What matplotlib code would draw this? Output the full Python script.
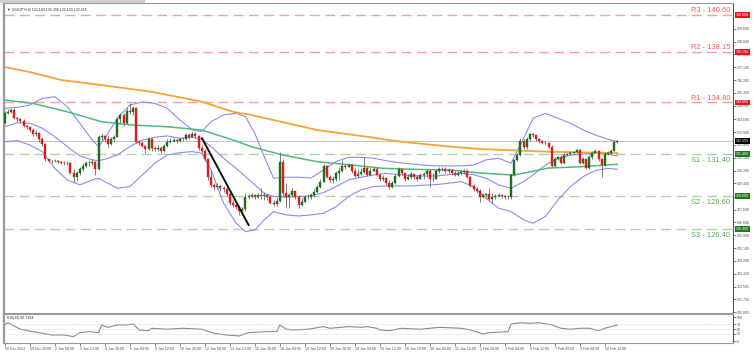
import matplotlib
matplotlib.use("Agg")
import matplotlib.pyplot as plt
import matplotlib.transforms as mtransforms
from matplotlib.patches import Rectangle
import numpy as np

# USDJPY H4 candles, bar 0 = 28 Dec 2022.
# Each bar opens at the previous close.
first_open = 133.46
closes = [
    134.12, 134.19, 134.30, 133.79, 133.68, 133.59, 133.24, 133.15, 132.98, 132.69,
    132.80, 132.36, 132.05, 131.03, 130.94, 130.90, 130.92, 130.85, 130.81, 130.77,
    130.81, 130.15, 129.84, 130.10, 130.37, 130.59, 130.77, 130.81, 130.88, 130.37,
    132.49, 132.58, 132.36, 132.05, 132.36, 132.53, 133.68, 133.97, 133.42, 134.26,
    134.19, 134.41, 132.20, 132.14, 131.91, 131.69, 132.36, 131.76, 131.72, 131.80,
    131.58, 131.91, 132.20, 132.27, 132.31, 132.27, 132.36, 132.40, 132.62, 132.53,
    132.71, 132.58, 131.76, 131.60, 131.03, 129.84, 129.33, 129.17, 129.26, 129.11,
    129.04, 128.73, 128.11, 128.00, 127.89, 127.63, 127.72, 128.51, 128.60, 128.64,
    128.56, 128.69, 128.60, 128.64, 128.51, 128.16, 128.07, 128.29, 130.88, 128.78,
    128.51, 128.67, 128.95, 128.51, 128.00, 128.22, 128.51, 128.56, 128.67, 128.89,
    129.22, 129.55, 130.59, 129.88, 129.66, 129.70, 130.15, 130.28, 130.59, 130.50,
    130.63, 130.23, 129.92, 130.06, 130.19, 130.46, 130.01, 130.28, 130.41, 130.01,
    129.70, 129.79, 129.48, 129.17, 129.48, 129.92, 130.37, 130.10, 129.70, 129.84,
    130.06, 129.88, 129.75, 129.97, 130.06, 130.28, 129.70, 129.75, 130.23, 130.41,
    130.37, 130.28, 130.32, 130.10, 130.01, 130.10, 130.19, 130.28, 129.88, 129.26,
    129.04, 128.91, 128.56, 128.64, 128.73, 128.38, 128.51, 128.60, 128.64, 128.60,
    128.56, 128.51, 129.99, 130.99, 131.32, 132.27, 131.83, 132.36, 132.71, 132.62,
    132.36, 132.22, 132.14, 132.09, 131.87, 130.59, 131.07, 131.16, 130.81, 131.32,
    131.38, 131.43, 131.52, 131.65, 130.81, 131.03, 130.46, 131.16, 131.47, 131.56,
    131.03, 130.68, 131.38, 131.47, 131.60, 132.18, 132.255,
]
highs = [
    134.26, 134.35, 134.41, 134.46, 133.86, 133.75, 133.68, 133.31, 133.20, 133.09,
    132.98, 132.86, 132.49, 132.09, 131.07, 131.01, 131.03, 130.99, 130.94, 130.90,
    130.92, 130.88, 130.37, 130.28, 130.50, 130.77, 130.94, 130.99, 131.03, 130.94,
    132.64, 132.75, 132.64, 132.58, 132.49, 132.64, 133.81, 134.12, 134.08, 134.41,
    134.74, 134.57, 134.48, 132.31, 132.22, 131.98, 132.49, 132.44, 131.91, 131.96,
    131.91, 132.05, 132.36, 132.42, 132.42, 132.40, 132.49, 132.53, 132.75, 132.80,
    132.86, 132.84, 132.64, 131.98, 131.69, 131.07, 130.32, 129.48, 129.44, 129.33,
    129.26, 129.22, 128.82, 128.33, 128.11, 128.02, 127.85, 128.78, 128.73, 128.78,
    128.73, 128.82, 129.11, 128.86, 128.73, 128.67, 128.33, 128.44, 131.54, 131.03,
    129.48, 128.82, 129.11, 128.95, 128.67, 128.44, 128.67, 128.73, 128.82, 129.04,
    129.33, 129.70, 130.72, 130.65, 129.99, 129.92, 130.28, 130.50, 130.99, 130.72,
    130.77, 130.72, 130.43, 130.37, 130.43, 131.21, 130.50, 130.45, 130.54, 130.54,
    130.10, 130.01, 129.88, 129.66, 129.62, 130.06, 130.54, 130.37, 130.15, 130.06,
    130.19, 130.06, 130.01, 130.10, 130.19, 130.41, 130.37, 130.15, 130.37, 130.50,
    130.54, 130.50, 130.45, 130.41, 130.28, 130.23, 130.32, 130.41, 130.37, 129.92,
    129.39, 129.22, 129.04, 128.82, 128.82, 129.11, 128.78, 128.73, 128.78, 128.73,
    128.69, 128.69, 130.06, 131.07, 131.43, 132.42, 132.36, 132.49, 132.80, 132.75,
    132.67, 132.42, 132.31, 132.22, 132.18, 131.96, 131.21, 131.25, 131.30, 131.43,
    131.47, 131.56, 131.60, 131.74, 131.69, 131.21, 131.07, 131.30, 131.60, 131.69,
    131.65, 131.12, 131.52, 131.60, 131.74, 132.27, 132.31,
]
lows = [
    133.37, 134.04, 134.12, 133.68, 133.53, 133.46, 133.15, 133.02, 132.86, 132.58,
    132.58, 132.20, 131.94, 130.94, 130.85, 130.81, 130.83, 130.77, 130.72, 130.65,
    130.68, 130.06, 129.55, 129.62, 129.99, 130.28, 130.50, 130.59, 130.65, 129.99,
    130.32, 132.31, 132.20, 131.87, 131.98, 132.20, 132.49, 133.46, 133.24, 133.37,
    134.04, 133.97, 132.14, 131.98, 131.83, 131.43, 131.65, 131.60, 131.60, 131.60,
    131.47, 131.54, 131.87, 132.09, 132.18, 132.14, 132.20, 132.22, 132.31, 132.40,
    132.49, 132.42, 131.65, 131.47, 130.94, 129.66, 129.17, 129.00, 129.04, 128.95,
    128.86, 128.60, 127.98, 127.85, 127.72, 127.34, 127.54, 127.63, 128.42, 128.45,
    128.42, 128.47, 128.38, 128.33, 128.33, 128.07, 127.94, 127.94, 128.22, 128.60,
    127.78, 127.78, 128.51, 128.38, 127.78, 127.94, 128.22, 128.38, 128.42, 128.56,
    128.78, 129.11, 129.55, 129.77, 129.55, 129.48, 129.62, 129.66, 130.21, 130.37,
    130.50, 130.15, 129.84, 129.88, 129.99, 130.15, 129.92, 129.97, 130.23, 129.92,
    129.57, 129.62, 129.35, 129.04, 129.11, 129.39, 129.84, 129.97, 129.62, 129.66,
    129.75, 129.75, 129.62, 129.70, 129.75, 129.88, 129.22, 129.62, 129.70, 130.15,
    130.28, 130.15, 130.15, 130.01, 129.92, 129.92, 129.97, 130.06, 129.79, 129.17,
    128.91, 128.78, 128.22, 128.47, 128.56, 128.29, 128.11, 128.38, 128.51, 128.47,
    128.42, 128.42, 128.42, 129.92, 130.94, 131.25, 131.74, 131.74, 132.27, 132.49,
    132.27, 132.14, 132.05, 132.00, 131.78, 130.50, 130.50, 130.99, 130.72, 130.72,
    131.25, 131.30, 131.38, 131.43, 130.72, 130.72, 130.37, 130.41, 131.07, 131.43,
    130.94, 129.88, 130.59, 131.29, 131.34, 131.56, 132.10,
]

# Bollinger bands (20, 2) sampled at these bars
bb_bars = [0, 4, 8, 12, 16, 20, 24, 28, 30, 32, 36, 40, 44, 48, 52, 56, 60, 63, 66, 70,
           74, 77, 80, 83, 86, 90, 94, 98, 102, 106, 110, 114, 118, 122, 126, 130, 134,
           138, 142, 146, 150, 154, 158, 162, 166, 169, 173, 177, 181, 185, 189, 193, 196]
bb_upper = [134.41, 134.48, 134.63, 135.07, 135.18, 134.52, 133.42, 132.31, 131.87, 132.42,
            133.75, 134.63, 134.83, 134.74, 134.41, 133.64, 132.98, 132.87, 133.53, 133.97,
            134.08, 133.86, 132.75, 131.21, 129.77, 129.84, 129.84, 129.79, 130.32, 130.88,
            131.16, 131.16, 131.10, 130.94, 130.81, 130.72, 130.65, 130.59, 130.59, 130.59,
            130.65, 130.99, 131.10, 130.77, 132.42, 133.75, 134.08, 133.75, 133.42, 132.98,
            132.64, 132.36, 132.20]
bb_mid = [133.20, 133.46, 133.42, 133.09, 132.53, 131.87, 131.25, 130.99, 130.94, 131.03,
          131.32, 131.87, 132.31, 132.49, 132.58, 132.42, 132.49, 132.36, 131.87, 131.10,
          130.43, 129.88, 129.33, 128.78, 128.56, 128.51, 128.56, 128.60, 128.82, 129.22,
          129.66, 129.84, 129.99, 130.10, 130.01, 129.95, 129.92, 129.92, 130.01, 130.10,
          130.01, 129.77, 129.33, 129.11, 129.55, 129.99, 130.65, 131.10, 131.30, 131.38,
          131.47, 131.38, 131.25]
bb_lower = [132.20, 132.27, 131.98, 131.54, 130.43, 129.66, 129.33, 129.66, 129.77, 129.55,
            129.11, 129.22, 129.99, 130.77, 131.32, 131.47, 131.54, 131.43, 130.32, 128.12,
            126.79, 126.23, 126.34, 127.01, 127.56, 127.34, 127.27, 127.34, 127.45, 127.89,
            128.56, 129.00, 129.22, 129.26, 129.26, 129.26, 129.31, 129.35, 129.44, 129.55,
            129.22, 128.45, 127.78, 127.56, 127.01, 126.79, 127.23, 128.34, 129.22, 129.88,
            130.28, 130.43, 130.37]

# slow (orange) and fast (green) moving averages
ma_slow_bars = [0, 8, 18, 31, 47, 63, 73, 79, 100, 116, 127, 143, 152, 174, 196]
ma_slow = [137.15, 136.82, 136.29, 135.95, 135.51, 134.85, 134.18, 133.96, 132.97, 132.52,
           132.19, 131.86, 131.71, 131.53, 131.44]
ma_fast_bars = [0, 9, 20, 31, 41, 52, 63, 73, 79, 89, 100, 111, 121, 132, 143, 152, 163,
                174, 184, 196]
ma_fast = [134.96, 134.74, 134.18, 133.52, 133.30, 133.19, 132.97, 132.31, 131.86, 131.31,
           130.87, 130.65, 130.43, 130.36, 130.31, 130.12, 129.98, 130.45, 130.53, 130.70]

# hand-drawn trend line
trend_bars = [63.1, 78.0]
trend_prices = [132.42, 126.67]

# support / resistance
level_names = ["R3", "R2", "R1", "S1", "S2", "S3"]
level_values = [140.60, 138.15, 134.80, 131.40, 128.60, 126.40]
last_price = 132.255

price_ticks = ["120.885", "121.730", "122.585", "123.435", "124.290", "125.140", "125.990",
               "126.840", "127.690", "128.540", "129.435", "130.285", "131.140", "131.990",
               "132.840", "133.690", "134.580", "135.430", "136.285", "137.135", "137.990",
               "138.840", "139.695"]

# RSI(14)
rsi_bars = [0, 1, 5, 9, 12, 15, 19, 22, 24, 27, 30, 31, 33, 36, 39, 41, 43, 46, 47, 52,
            57, 63, 67, 71, 75, 78, 84, 87, 88, 90, 92, 97, 102, 104, 110, 114, 116, 119,
            120, 123, 127, 133, 136, 139, 146, 149, 153, 155, 161, 162, 165, 168, 171, 175,
            178, 181, 184, 187, 190, 192, 194, 196]
rsi_values = [67, 76, 49, 39, 32, 25, 25, 18, 35, 39, 35, 67, 57, 67, 67, 71, 46, 43, 53, 49,
              53, 49, 32, 25, 21, 35, 39, 39, 67, 50, 46, 49, 60, 53, 60, 57, 60, 53,
              46, 43, 53, 49, 53, 57, 53, 46, 29, 35, 39, 71, 76, 74, 76, 67,
              53, 49, 53, 53, 43, 53, 60, 66.7]

date_labels = ["28 Dec 2022", "29 Dec 20:00", "2 Jan 04:00", "3 Jan 12:00", "4 Jan 20:00",
               "6 Jan 04:00", "9 Jan 12:00", "10 Jan 20:00", "12 Jan 04:00", "13 Jan 12:00",
               "16 Jan 20:00", "18 Jan 04:00", "19 Jan 12:00", "20 Jan 20:00", "24 Jan 04:00",
               "25 Jan 12:00", "26 Jan 20:00", "30 Jan 04:00", "31 Jan 12:00", "1 Feb 20:00",
               "3 Feb 04:00", "6 Feb 12:00", "7 Feb 20:00", "9 Feb 04:00", "10 Feb 12:00"]

plt.rcParams['font.family'] = ['Liberation Sans', 'DejaVu Sans']

W, H = 754, 352
fig = plt.figure(figsize=(W / 100, H / 100), dpi=100)
fig.patch.set_facecolor('white')

def px_axes(x0, y0, x1, y1):
    return fig.add_axes([x0 / W, 1 - y1 / H, (x1 - x0) / W, (y1 - y0) / H])

ax = px_axes(4, 3, 733, 313)
ax_rsi = px_axes(4, 314, 733, 343)

n = len(closes)
x = np.arange(n)
c = np.array(closes)
o = np.concatenate([[first_open], c[:-1]])
hi = np.array(highs)
lo = np.array(lows)
up = c >= o
body_col = np.where(up, '#1e6e1e', '#e01b1b')

ax.vlines(x, lo, hi, color='#6a6a6a', linewidth=0.6, zorder=3)
ax.bar(x, np.abs(c - o), bottom=np.minimum(o, c), width=0.64, color=body_col,
       edgecolor=body_col, linewidth=0.3, zorder=4)

ax.plot(bb_bars, bb_upper, color='#8c8cf0', lw=0.8, zorder=2)
ax.plot(bb_bars, bb_mid, color='#8c8cf0', lw=0.8, zorder=2)
ax.plot(bb_bars, bb_lower, color='#8c8cf0', lw=0.8, zorder=2)
ax.plot(ma_slow_bars, ma_slow, color='#f7a43a', lw=1.3, zorder=2)
ax.plot(ma_fast_bars, ma_fast, color='#4dbb7c', lw=1.1, zorder=2)
ax.plot(trend_bars, trend_prices, color='#111111', lw=1.4, zorder=5)

ax.axhline(last_price, color='#c4c4c4', lw=0.8, zorder=1)

trans = mtransforms.blended_transform_factory(ax.transAxes, ax.transData)
for name, val in zip(level_names, level_values):
    res = name.startswith('R')
    lc = '#ff9c9c' if res else '#a9d3a9'
    tc = '#f25c5c' if res else '#5aa55a'
    ax.axhline(val, color=lc, lw=1.0, dashes=(7, 4), zorder=1)
    if res:
        ax.text(0.996, val + 0.17, f"{name} - {val:.2f}", transform=trans, ha='right',
                va='baseline', fontsize=5.4, color=tc)
    else:
        ax.text(0.996, val - 0.2, f"{name} - {val:.2f}", transform=trans, ha='right',
                va='top', fontsize=5.4, color=tc)
    ax.text(1.004, val, f"{val:.3f}", transform=trans, ha='left', va='center',
            fontsize=2.6, color='white', clip_on=False,
            bbox=dict(boxstyle='square,pad=0.25', fc='#e8141a' if res else '#1f7a1f', ec='none'))

ax.text(1.004, last_price, f"{last_price:.3f}", transform=trans, ha='left', va='center',
        fontsize=2.6, color='white', clip_on=False,
        bbox=dict(boxstyle='square,pad=0.25', fc='black', ec='none'))

ax.set_xlim(-0.26, 233.0)
ax.set_ylim(120.83, 141.40)
ax.yaxis.tick_right()
ax.set_yticks([float(t) for t in price_ticks])
ax.set_yticklabels(price_ticks)
ax.tick_params(axis='y', labelsize=2.6, length=2, width=0.5, pad=1, colors='#505050')
ax.set_xticks([])
for s in ax.spines.values():
    s.set_color('#9a9a9a')
    s.set_linewidth(0.8)
ax.spines['left'].set_linewidth(1.6)
ax.spines['right'].set_color('#555555')

ax.text(0.004, 0.985, "\u25bc USDJPY,H4 132.184 132.308 132.103 132.255", transform=ax.transAxes,
        ha='left', va='top', fontsize=2.6, color='#333333')

# RSI panel
ax_rsi.plot(rsi_bars, rsi_values, color='#8a8a8a', lw=0.8)
for lvl in (70, 50, 30):
    ax_rsi.axhline(lvl, color='#c8c8c8', lw=0.5, ls=(0, (1, 1.5)))
ax_rsi.set_xlim(-0.26, 233.0)
ax_rsi.set_ylim(-8.3, 112.5)
ax_rsi.yaxis.tick_right()
ax_rsi.set_yticks([100, 70, 50, 30, 0])
ax_rsi.set_yticklabels(["100", "70", "50", "30", "0"])
ax_rsi.tick_params(axis='y', labelsize=2.6, length=2, width=0.5, pad=1, colors='#505050')
ax_rsi.set_xticks(np.arange(len(date_labels)) * 8)
ax_rsi.set_xticklabels(date_labels, ha='left')
ax_rsi.tick_params(axis='x', labelsize=2.6, length=2, width=0.5, pad=1, colors='#505050')
for s in ax_rsi.spines.values():
    s.set_color('#9a9a9a')
    s.set_linewidth(0.8)
ax_rsi.spines['left'].set_linewidth(1.6)
ax_rsi.spines['right'].set_color('#555555')
ax_rsi.text(0.004, 0.93, "RSI(14) 66.7354", transform=ax_rsi.transAxes, ha='left', va='top',
            fontsize=2.6, color='#333333')

# grey strip along the top edge
fig.patches.append(Rectangle((0, 1 - 3 / H), 145 / W, 3 / H, transform=fig.transFigure,
                             facecolor='#cfcfcf', edgecolor='none'))

fig.savefig("out.png", dpi=100)
